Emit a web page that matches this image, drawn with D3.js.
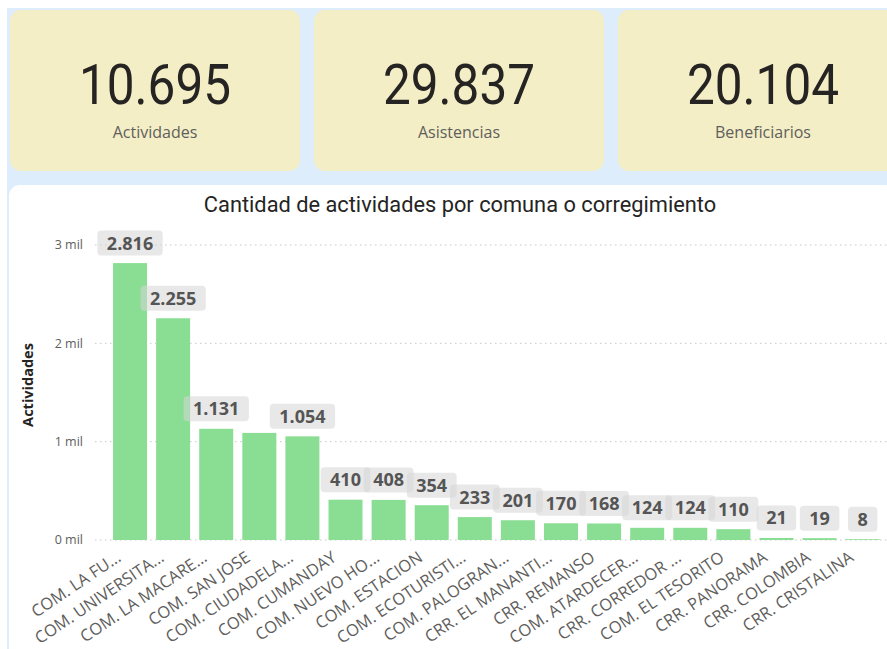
<!DOCTYPE html>
<html lang="es">
<head>
<meta charset="UTF-8">
<title>Cantidad de actividades por comuna o corregimiento</title>
<script src="https://d3js.org/d3.v7.min.js"></script>
<style>
  body { margin: 0; background: #fff; overflow: hidden; }
  text { font-family: 'Open Sans', 'Noto Sans', sans-serif; }
</style>
</head>
<body>
<div id="chart"></div>
<script>
// KPI tarjetas
const kpiLabels = ['Actividades', 'Asistencias', 'Beneficiarios'];
const kpiValues = [10695, 29837, 20104];

// barras por comuna / corregimiento
const comunas = [
  'COM. LA FU...', 'COM. UNIVERSITA...', 'COM. LA MACARE...', 'COM. SAN JOSE',
  'COM. CIUDADELA...', 'COM. CUMANDAY', 'COM. NUEVO HO...', 'COM. ESTACION',
  'COM. ECOTURISTI...', 'COM. PALOGRAN...', 'CRR. EL MANANTI...', 'CRR. REMANSO',
  'COM. ATARDECER...', 'CRR. CORREDOR ...', 'COM. EL TESORITO', 'CRR. PANORAMA',
  'CRR. COLOMBIA', 'CRR. CRISTALINA'
];
const actividades = [2816, 2255, 1131, 1089, 1054, 410, 408, 354, 233, 201, 170, 168, 124, 124, 110, 21, 19, 8];
const yTicks = [0, 1000, 2000, 3000];

const W = 887, H = 649;
const es = d3.formatLocale({ decimal: ',', thousands: '.', grouping: [3], currency: ['$', ''] });
const fmt = es.format(',d');

const svg = d3.select('#chart').append('svg')
  .attr('width', W)
  .attr('height', H);

// fondo azul del lienzo
svg.append('rect')
  .attr('x', 7).attr('y', 8)
  .attr('width', W).attr('height', H)
  .attr('fill', '#deedfb');

// tarjetas
const cardX = d3.scaleBand().domain(kpiLabels).range([10, 908]).paddingInner(14 / 304);
const cards = svg.selectAll('.card')
  .data(kpiLabels.map((l, i) => ({ label: l, value: kpiValues[i] })))
  .join('g')
  .attr('class', 'card')
  .attr('transform', d => `translate(${cardX(d.label)},10)`);

cards.append('rect')
  .attr('width', cardX.bandwidth())
  .attr('height', 161)
  .attr('rx', 11)
  .attr('fill', '#f4eec6');

cards.append('text')
  .attr('x', cardX.bandwidth() / 2)
  .attr('y', 94)
  .attr('text-anchor', 'middle')
  .attr('textLength', 152)
  .attr('lengthAdjust', 'spacingAndGlyphs')
  .style('font-family', 'Roboto, sans-serif')
  .style('font-size', '55px')
  .attr('fill', '#252423')
  .text(d => fmt(d.value));

cards.append('text')
  .attr('x', cardX.bandwidth() / 2)
  .attr('y', 128)
  .attr('text-anchor', 'middle')
  .style('font-size', '16px')
  .attr('fill', '#605e5c')
  .text(d => d.label);

// panel del grafico
svg.append('rect')
  .attr('x', 9).attr('y', 185)
  .attr('width', W).attr('height', H)
  .attr('rx', 11)
  .attr('fill', '#fff');

svg.append('text')
  .attr('x', 460)
  .attr('y', 212)
  .attr('text-anchor', 'middle')
  .style('font-family', 'Roboto, sans-serif')
  .style('font-size', '21.8px')
  .attr('fill', '#252423')
  .text('Cantidad de actividades por comuna o corregimiento');

const x = d3.scaleBand()
  .domain(comunas)
  .range([108.5, 884.2])
  .paddingInner(0.211)
  .paddingOuter(0.105);

const y = d3.scaleLinear()
  .domain([0, 3000])
  .range([540, 245]);

// rejilla
svg.append('g')
  .selectAll('line')
  .data(yTicks)
  .join('line')
  .attr('x1', 95).attr('x2', W)
  .attr('y1', d => y(d)).attr('y2', d => y(d))
  .attr('stroke', '#c8c8c8')
  .attr('stroke-width', 1)
  .attr('stroke-dasharray', '1.5,3.5');

svg.append('g')
  .selectAll('text')
  .data(yTicks)
  .join('text')
  .attr('x', 83)
  .attr('y', d => y(d))
  .attr('dy', '0.35em')
  .attr('text-anchor', 'end')
  .style('font-size', '12.5px')
  .attr('fill', '#605e5c')
  .text(d => `${d / 1000} mil`);

svg.append('text')
  .attr('transform', 'translate(33,385) rotate(-90)')
  .attr('text-anchor', 'middle')
  .style('font-size', '14.5px')
  .style('font-weight', 'bold')
  .attr('fill', '#252423')
  .text('Actividades');

// barras
const data = comunas.map((c, i) => ({ name: c, value: actividades[i] }));

svg.append('g')
  .selectAll('rect')
  .data(data)
  .join('rect')
  .attr('x', d => x(d.name))
  .attr('y', d => y(d.value))
  .attr('width', x.bandwidth())
  .attr('height', d => y(0) - y(d.value))
  .attr('fill', '#8ade94');

// etiquetas eje x
svg.append('g')
  .selectAll('text')
  .data(data)
  .join('text')
  .attr('transform', d => `translate(${x(d.name) + x.bandwidth() / 2 - 8},560) rotate(-34)`)
  .attr('text-anchor', 'end')
  .style('font-size', '16.5px')
  .attr('fill', '#605e5c')
  .text(d => d.name);

// etiquetas de datos (se ocultan si se pisan)
const lbl = svg.append('g')
  .selectAll('g')
  .data(data)
  .join('g')
  .attr('transform', d => `translate(${x(d.name) + x.bandwidth() / 2},${y(d.value) - 20})`);

lbl.append('text')
  .attr('dy', '0.36em')
  .attr('text-anchor', 'middle')
  .style('font-size', '18px')
  .style('font-weight', 'bold')
  .attr('fill', '#555')
  .text(d => fmt(d.value));

let prev = null;
lbl.each(function (d) {
  const g = d3.select(this);
  const w = g.select('text').node().getComputedTextLength();
  const cx = x(d.name) + x.bandwidth() / 2, cy = y(d.value) - 20;
  const box = { x0: cx - w / 2, x1: cx + w / 2, y0: cy - 9, y1: cy + 9 };
  if (prev && box.x0 < prev.x1 && box.y0 < prev.y1 && box.y1 > prev.y0) {
    g.remove();
    return;
  }
  prev = box;
  g.insert('rect', 'text')
    .attr('x', -w / 2 - 9.5)
    .attr('y', -12.5)
    .attr('width', w + 19)
    .attr('height', 25)
    .attr('rx', 4)
    .attr('fill', '#d6d6d6')
    .attr('fill-opacity', 0.55);
});
</script>
</body>
</html>
